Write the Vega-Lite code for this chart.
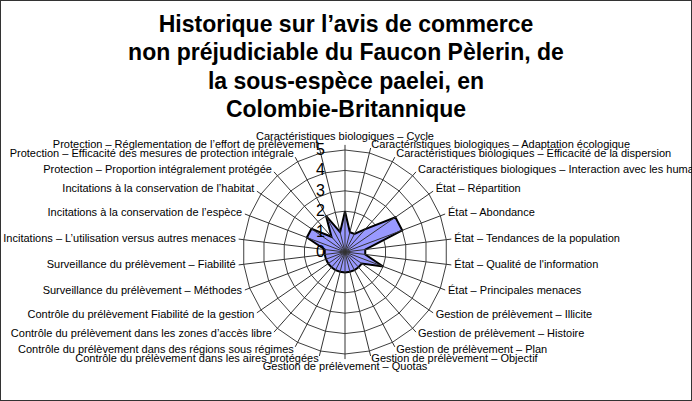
{
  "$schema": "https://vega.github.io/schema/vega-lite/v6.json",
  "width": 692,
  "height": 401,
  "autosize": "none",
  "padding": 0,
  "background": "white",
  "config": {
    "view": {"stroke": "#333333", "strokeWidth": 2},
    "font": "Liberation Sans"
  },
  "title": {
    "text": ["Historique sur l’avis de commerce", "non préjudiciable du Faucon Pèlerin, de", "la sous-espèce paelei, en", "Colombie-Britannique"],
    "font": "Liberation Sans",
    "fontSize": 23,
    "fontWeight": "bold",
    "color": "black",
    "lineHeight": 28.5,
    "anchor": "middle",
    "baseline": "top",
    "offset": -122
  },
  "data": {
    "values": [
      {"critere": "Caractéristiques biologiques – Cycle", "idx": 0, "valeur": 2},
      {"critere": "Caractéristiques biologiques – Adaptation écologique", "idx": 1, "valeur": 1},
      {"critere": "Caractéristiques biologiques – Efficacité de la dispersion", "idx": 2, "valeur": 1},
      {"critere": "Caractéristiques biologiques – Interaction avec les humains", "idx": 3, "valeur": 1.5},
      {"critere": "État – Répartition", "idx": 4, "valeur": 3},
      {"critere": "État – Abondance", "idx": 5, "valeur": 3},
      {"critere": "État – Tendances de la population", "idx": 6, "valeur": 1},
      {"critere": "État – Qualité de l'information", "idx": 7, "valeur": 1},
      {"critere": "État – Principales menaces", "idx": 8, "valeur": 2},
      {"critere": "Gestion de prélèvement – Illicite", "idx": 9, "valeur": 1},
      {"critere": "Gestion de prélèvement – Histoire", "idx": 10, "valeur": 1},
      {"critere": "Gestion de prélèvement – Plan", "idx": 11, "valeur": 1},
      {"critere": "Gestion de prélèvement – Objectif", "idx": 12, "valeur": 1},
      {"critere": "Gestion de prélèvement – Quotas", "idx": 13, "valeur": 1},
      {"critere": "Contrôle du prélèvement dans les aires protégées", "idx": 14, "valeur": 1},
      {"critere": "Contrôle du prélèvement dans des régions sous régimes", "idx": 15, "valeur": 1},
      {"critere": "Contrôle du prélèvement dans les zones d’accès libre", "idx": 16, "valeur": 1},
      {"critere": "Contrôle du prélèvement Fiabilité de la gestion", "idx": 17, "valeur": 1},
      {"critere": "Surveillance du prélèvement – Méthodes", "idx": 18, "valeur": 1},
      {"critere": "Surveillance du prélèvement – Fiabilité", "idx": 19, "valeur": 1},
      {"critere": "Incitations – L’utilisation versus autres menaces", "idx": 20, "valeur": 1},
      {"critere": "Incitations à la conservation de l’espèce", "idx": 21, "valeur": 2},
      {"critere": "Incitations à la conservation de l’habitat", "idx": 22, "valeur": 2},
      {"critere": "Protection – Proportion intégralement protégée", "idx": 23, "valeur": 1},
      {"critere": "Protection – Efficacité des mesures de protection intégrale", "idx": 24, "valeur": 2},
      {"critere": "Protection – Réglementation de l’effort de prélèvement", "idx": 25, "valeur": 1}
    ]
  },
  "encoding": {
    "x": {"field": "x", "type": "quantitative", "scale": {"domain": [-16.912, 17.01], "nice": false, "zero": false}, "axis": null},
    "y": {"field": "y", "type": "quantitative", "scale": {"domain": [-7.304, 12.353], "nice": false, "zero": false}, "axis": null}
  },
  "layer": [
    {
      "transform": [
        {"calculate": "datum.idx * 2 * PI / 26", "as": "angle"},
        {"calculate": "[1, 2, 3, 4, 5]", "as": "niveau"},
        {"flatten": ["niveau"]},
        {"calculate": "datum.niveau * sin(datum.angle)", "as": "x"},
        {"calculate": "datum.niveau * cos(datum.angle)", "as": "y"}
      ],
      "mark": {"type": "line", "interpolate": "linear-closed", "stroke": "#404040", "strokeWidth": 1},
      "encoding": {
        "detail": {"field": "niveau", "type": "quantitative"},
        "order": {"field": "idx", "type": "quantitative"}
      }
    },
    {
      "transform": [
        {"calculate": "datum.idx * 2 * PI / 26", "as": "angle"},
        {"calculate": "datum.valeur * sin(datum.angle)", "as": "x"},
        {"calculate": "datum.valeur * cos(datum.angle)", "as": "y"}
      ],
      "mark": {"type": "line", "interpolate": "linear-closed", "fill": "#9999ff", "stroke": "black", "strokeWidth": 2},
      "encoding": {
        "order": {"field": "idx", "type": "quantitative"}
      }
    },
    {
      "transform": [
        {"calculate": "datum.idx * 2 * PI / 26", "as": "angle"},
        {"calculate": "5.25 * sin(datum.angle)", "as": "x"},
        {"calculate": "5.25 * cos(datum.angle)", "as": "y"}
      ],
      "mark": {"type": "rule", "stroke": "#333333", "strokeWidth": 1},
      "encoding": {
        "x": {"datum": 0, "type": "quantitative"},
        "y": {"datum": 0, "type": "quantitative"},
        "x2": {"field": "x"},
        "y2": {"field": "y"}
      }
    },
    {
      "transform": [
        {"filter": "datum.idx > 0 && datum.idx < 13"},
        {"calculate": "datum.idx * 2 * PI / 26", "as": "angle"},
        {"calculate": "5.4 * sin(datum.angle)", "as": "x"},
        {"calculate": "5.4 * cos(datum.angle)", "as": "y"}
      ],
      "mark": {"type": "text", "align": "left", "baseline": "middle", "fontSize": 11, "font": "Liberation Sans", "color": "black"},
      "encoding": {"text": {"field": "critere"}}
    },
    {
      "transform": [
        {"filter": "datum.idx > 13"},
        {"calculate": "datum.idx * 2 * PI / 26", "as": "angle"},
        {"calculate": "5.4 * sin(datum.angle)", "as": "x"},
        {"calculate": "5.4 * cos(datum.angle)", "as": "y"}
      ],
      "mark": {"type": "text", "align": "right", "baseline": "middle", "fontSize": 11, "font": "Liberation Sans", "color": "black"},
      "encoding": {"text": {"field": "critere"}}
    },
    {
      "transform": [
        {"filter": "datum.idx == 0 || datum.idx == 13"},
        {"calculate": "datum.idx * 2 * PI / 26", "as": "angle"},
        {"calculate": "5.65 * sin(datum.angle)", "as": "x"},
        {"calculate": "5.65 * cos(datum.angle)", "as": "y"}
      ],
      "mark": {"type": "text", "align": "center", "baseline": "middle", "fontSize": 11, "font": "Liberation Sans", "color": "black"},
      "encoding": {"text": {"field": "critere"}}
    },
    {
      "data": {"values": [{"v": 0}, {"v": 1}, {"v": 2}, {"v": 3}, {"v": 4}, {"v": 5}]},
      "transform": [
        {"calculate": "0", "as": "x"},
        {"calculate": "datum.v", "as": "y"}
      ],
      "mark": {"type": "text", "align": "right", "baseline": "middle", "dx": -20, "fontSize": 16, "font": "Liberation Sans", "color": "black"},
      "encoding": {"text": {"field": "v", "type": "quantitative"}}
    }
  ]
}
